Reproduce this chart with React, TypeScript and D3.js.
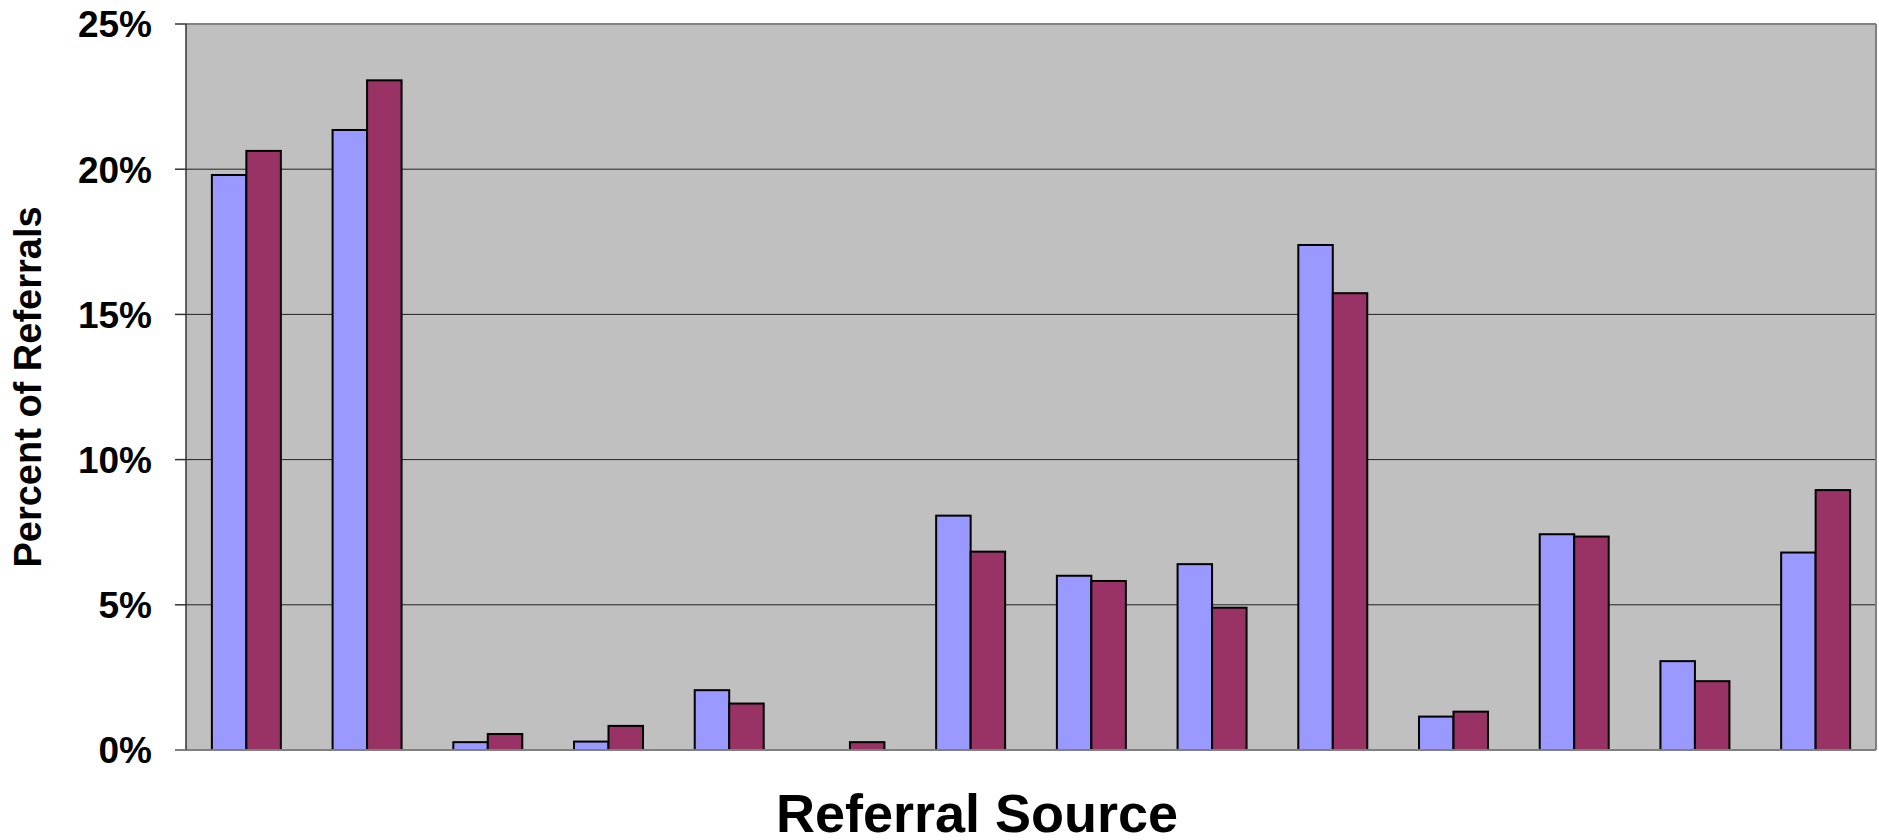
import { useMemo } from 'react';
import { scaleBand, scaleLinear } from 'd3';

// referral sources (no labels shown on the original axis)
const categories = [
  'S1', 'S2', 'S3', 'S4', 'S5', 'S6', 'S7',
  'S8', 'S9', 'S10', 'S11', 'S12', 'S13', 'S14',
];
const seriesNames = ['Period 1', 'Period 2'];
const period1 = [19.8, 21.35, 0.27, 0.29, 2.06, 0, 8.07, 6.0, 6.4, 17.39, 1.15, 7.43, 3.06, 6.8];
const period2 = [20.63, 23.06, 0.55, 0.83, 1.6, 0.27, 6.83, 5.82, 4.9, 15.73, 1.32, 7.35, 2.37, 8.95];
const yTicks = [0, 5, 10, 15, 20, 25];
const seriesColors = ['#9999FF', '#993366'];

const W = 1879;
const H = 840;
const margin = { top: 24, right: 3, bottom: 90, left: 186 };

const App = () => {
  const innerW = W - margin.left - margin.right;
  const innerH = H - margin.top - margin.bottom;

  const x0 = useMemo(
    () =>
      scaleBand<string>()
        .domain(categories)
        .range([0, innerW])
        .paddingInner(0.4286)
        .paddingOuter(0.2143),
    [innerW],
  );
  const x1 = useMemo(
    () => scaleBand<string>().domain(seriesNames).range([0, x0.bandwidth()]),
    [x0],
  );
  const y = useMemo(
    () => scaleLinear().domain([0, 25]).range([innerH, 0]),
    [innerH],
  );

  const series = [period1, period2];

  return (
    <svg
      width={W}
      height={H}
      style={{ position: 'fixed', left: 0, top: 0, background: '#fff' }}
      fontFamily="'Liberation Sans', Arial, sans-serif"
    >
      <g transform={`translate(${margin.left},${margin.top})`}>
        <rect x={0} y={0} width={innerW} height={innerH} fill="#C0C0C0" />
        {yTicks
          .filter((t) => t > 0 && t < 25)
          .map((t) => (
            <line key={t} x1={0} x2={innerW} y1={y(t)} y2={y(t)} stroke="#222" strokeWidth={1} />
          ))}
        {categories.map((c, i) => (
          <g key={c} transform={`translate(${x0(c)},0)`}>
            {series.map((s, j) =>
              s[i] > 0 ? (
                <rect
                  key={j}
                  x={x1(seriesNames[j])}
                  y={y(s[i])}
                  width={x1.bandwidth()}
                  height={innerH - y(s[i])}
                  fill={seriesColors[j]}
                  stroke="#000"
                  strokeWidth={2}
                />
              ) : null,
            )}
          </g>
        ))}
        {/* plot border */}
        <line x1={0} x2={innerW} y1={0} y2={0} stroke="#808080" strokeWidth={2} />
        <line x1={innerW} x2={innerW} y1={0} y2={innerH} stroke="#808080" strokeWidth={2} />
        <line x1={-11} x2={innerW} y1={innerH} y2={innerH} stroke="#808080" strokeWidth={2} />
        <line x1={0} x2={0} y1={0} y2={innerH} stroke="#333" strokeWidth={1.5} />
        {yTicks.map((t) => (
          <g key={t} transform={`translate(0,${y(t)})`}>
            <line x1={-11} x2={0} stroke={t === 0 ? '#808080' : '#333'} strokeWidth={t === 0 ? 2 : 1.5} />
            <text
              x={-34}
              dy="0.36em"
              textAnchor="end"
              fontSize={37}
              fontWeight="bold"
              fill="#000"
            >
              {`${t}%`}
            </text>
          </g>
        ))}
      </g>
      <text
        transform={`translate(41,${margin.top + innerH / 2}) rotate(-90)`}
        textAnchor="middle"
        fontSize={38}
        fontWeight="bold"
      >
        Percent of Referrals
      </text>
      <text x={977} y={832} textAnchor="middle" fontSize={54} fontWeight="bold">
        Referral Source
      </text>
    </svg>
  );
};

export default App;
